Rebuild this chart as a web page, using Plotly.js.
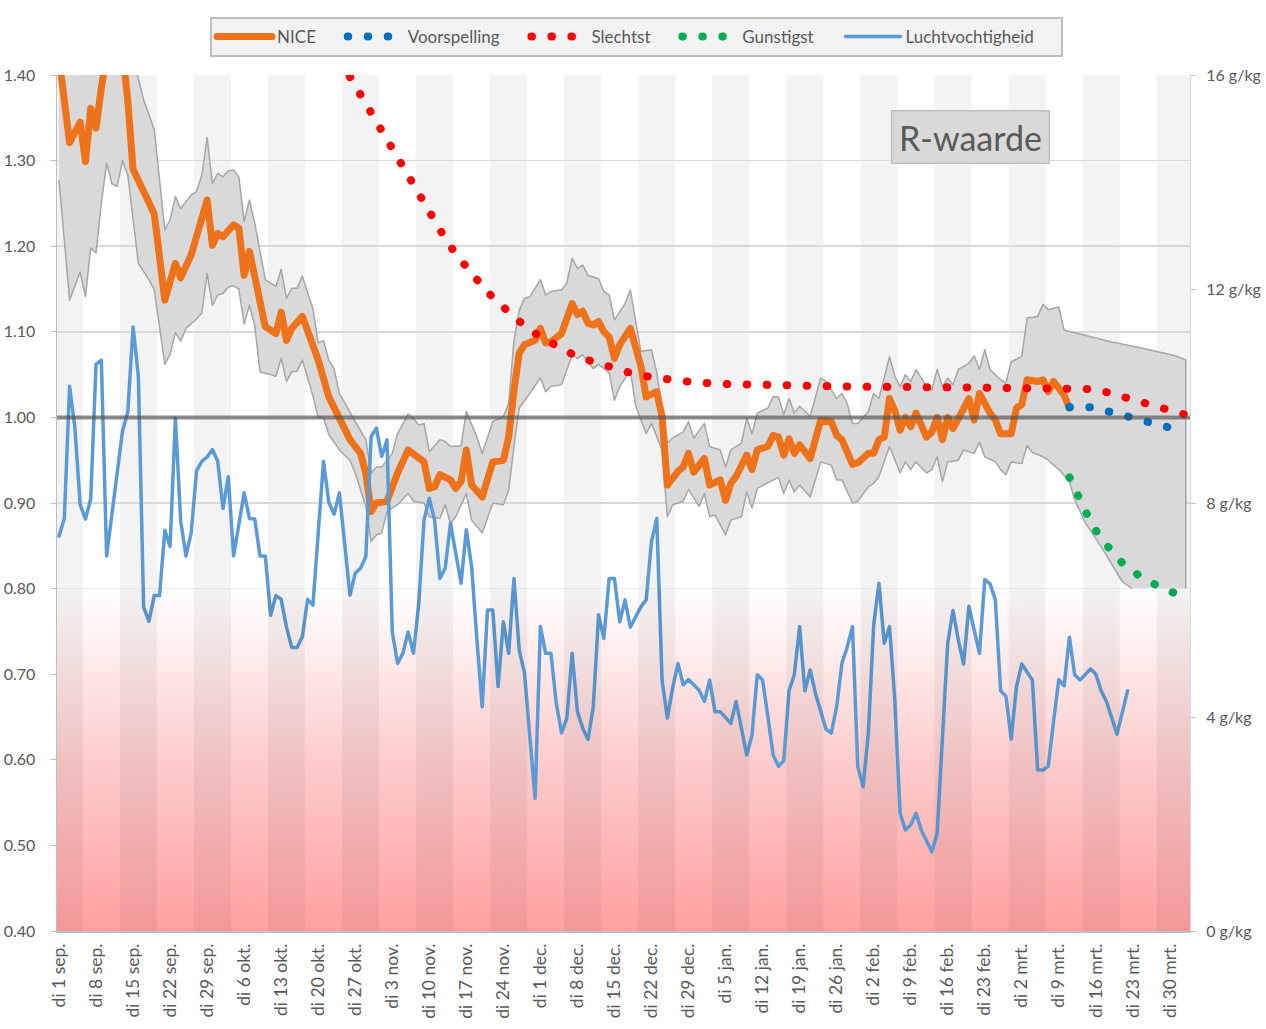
<!DOCTYPE html>
<html>
<head>
<meta charset="utf-8">
<script src="https://cdn.plot.ly/plotly-3.0.1.min.js"></script>
<style>
html,body{margin:0;padding:0;background:#ffffff;}
#chart{width:1266px;height:1029px;}
.js-line{stroke-linecap:round;stroke-linejoin:round;}
</style>
</head>
<body>
<div id="chart"></div>
<script>
// ---------- data (days counted from di 1 sep. 2020) ----------
const startDate = '2020-09-01';

const tickLabels = ['di 1 sep.','di 8 sep.','di 15 sep.','di 22 sep.','di 29 sep.','di 6 okt.','di 13 okt.',
  'di 20 okt.','di 27 okt.','di 3 nov.','di 10 nov.','di 17 nov.','di 24 nov.','di 1 dec.','di 8 dec.',
  'di 15 dec.','di 22 dec.','di 29 dec.','di 5 jan.','di 12 jan.','di 19 jan.','di 26 jan.','di 2 feb.',
  'di 9 feb.','di 16 feb.','di 23 feb.','di 2 mrt.','di 9 mrt.','di 16 mrt.','di 23 mrt.','di 30 mrt.'];

const seriesNames = ['NICE','Voorspelling','Slechtst','Gunstigst','Luchtvochtigheid'];

// NICE R-waarde
const niceDays = [0,2,4,5,6,7,8,9,10,11,12,13,14,18,20,22,23,25,28,29,30,31,33,34,35,36,37,39,41,42,43,44,46,49,51,53,55,57,58,59,60,62,64,66,68,69,70,71,72,74,75,76,77,78,80,82,84,85,86,87,88,90,91,92,93,95,97,98,99,100,101,102,103,104,105,106,108,109,110,111,113,114,115,117,118,119,120,122,123,125,126,127,128,130,131,132,134,135,136,137,138,139,140,142,144,146,147,148,150,151,153,154,155,156,157,158,159,160,161,162,164,165,166,167,168,169,170,172,173,174,176,177,178,180,181,182,183,185,186,187,188,189,190,191];
const niceR = [1.42,1.321,1.345,1.299,1.361,1.338,1.385,1.43,1.46,1.46,1.43,1.37,1.29,1.238,1.137,1.180,1.163,1.190,1.254,1.201,1.215,1.211,1.225,1.221,1.166,1.194,1.161,1.106,1.098,1.123,1.090,1.104,1.118,1.067,1.024,0.997,0.974,0.958,0.935,0.890,0.900,0.902,0.935,0.962,0.952,0.948,0.917,0.919,0.933,0.927,0.917,0.925,0.962,0.921,0.907,0.948,0.950,0.977,1.032,1.075,1.085,1.090,1.104,1.087,1.088,1.098,1.133,1.120,1.124,1.110,1.108,1.112,1.100,1.094,1.069,1.085,1.104,1.079,1.060,1.024,1.030,1.001,0.921,0.937,0.942,0.958,0.936,0.952,0.921,0.927,0.903,0.923,0.931,0.956,0.939,0.962,0.966,0.979,0.977,0.956,0.975,0.958,0.968,0.952,0.997,0.995,0.979,0.974,0.945,0.947,0.958,0.958,0.974,0.977,1.022,1.008,0.985,1.000,0.989,1.005,0.977,0.983,1.000,0.974,1.000,0.987,1.000,1.022,0.997,1.028,1.005,0.997,0.981,0.981,1.011,1.015,1.044,1.042,1.044,1.030,1.042,1.035,1.026,1.011];

// uncertainty band, upper edge
const bandUpDays = [0,5,10,14,16,18,20,21,22,23,25,26,27,28,29,30,31,32,33,34,35,36,37,39,41,42,43,44,45,46,48,49,50,51,52,53,55,56,58,59,60,61,63,64,66,67,68,69,70,72,73,74,76,77,79,80,82,84,85,86,87,88,89,91,92,93,95,96,97,98,99,100,101,102,103,104,105,107,108,110,112,113,115,116,118,119,120,122,123,125,126,127,129,130,131,132,134,135,136,137,138,139,140,142,144,145,147,148,149,150,151,153,154,155,157,158,159,160,161,162,164,165,166,167,168,169,170,172,173,174,175,176,177,178,179,180,182,183,185,186,187,189,190,194,199,204,208,211,213];
const bandUp = [1.46,1.48,1.50,1.42,1.371,1.336,1.219,1.231,1.258,1.244,1.260,1.264,1.283,1.327,1.273,1.285,1.281,1.288,1.289,1.281,1.229,1.254,1.227,1.161,1.153,1.173,1.139,1.151,1.151,1.165,1.127,1.087,1.090,1.067,1.057,1.028,1.005,0.995,0.974,0.935,0.942,0.942,0.958,0.981,1.004,0.999,0.991,0.993,0.960,0.974,0.972,0.966,0.967,1.007,0.977,0.958,0.995,1.001,1.016,1.090,1.125,1.139,1.141,1.161,1.143,1.147,1.149,1.157,1.186,1.174,1.178,1.166,1.164,1.162,1.147,1.143,1.114,1.133,1.149,1.077,1.079,1.052,0.970,0.976,0.983,0.995,0.976,0.993,0.966,0.962,0.942,0.962,0.970,0.999,0.981,1.005,1.011,1.024,1.024,1.003,1.022,1.005,1.013,1.001,1.046,1.042,1.022,1.028,1.016,0.993,0.993,1.007,1.028,1.022,1.071,1.048,1.036,1.050,1.042,1.056,1.036,1.032,1.056,1.036,1.046,1.038,1.056,1.063,1.072,1.056,1.079,1.056,1.050,1.044,1.040,1.065,1.071,1.116,1.118,1.132,1.126,1.129,1.102,1.096,1.088,1.082,1.076,1.072,1.067];

// uncertainty band, lower edge
const bandLoDays = [0,2,4,5,6,7,8,9,10,11,12,13,15,17,18,20,21,22,23,24,26,27,28,29,30,31,32,33,34,35,36,37,38,40,41,42,43,44,45,46,48,49,50,51,53,55,56,58,59,60,61,62,64,66,67,69,70,72,73,74,75,77,78,80,82,84,85,86,87,88,89,91,92,93,95,97,98,99,100,101,102,104,105,106,108,109,111,112,114,115,116,118,119,121,122,123,124,126,127,129,130,131,132,134,136,137,138,139,140,142,144,146,147,148,150,151,153,154,155,157,158,159,160,161,162,164,165,166,167,168,170,171,173,174,175,177,178,179,180,182,183,184,186,187,189,191,192,194,197,199,201,204,208,213];
const bandLo = [1.277,1.137,1.170,1.141,1.198,1.192,1.250,1.297,1.273,1.270,1.300,1.283,1.180,1.161,1.149,1.062,1.074,1.099,1.089,1.104,1.115,1.122,1.168,1.131,1.143,1.145,1.152,1.154,1.150,1.109,1.131,1.107,1.053,1.050,1.048,1.069,1.042,1.053,1.054,1.067,1.025,1.000,1.000,0.980,0.962,0.950,0.935,0.896,0.855,0.863,0.865,0.890,0.898,0.911,0.902,0.900,0.884,0.882,0.898,0.876,0.884,0.911,0.880,0.865,0.900,0.898,0.915,0.966,1.011,1.020,1.028,1.046,1.030,1.036,1.038,1.073,1.069,1.073,1.065,1.057,1.062,1.052,1.020,1.036,1.055,1.014,0.981,0.993,0.962,0.884,0.898,0.902,0.916,0.896,0.911,0.884,0.886,0.863,0.880,0.884,0.913,0.894,0.917,0.923,0.930,0.911,0.927,0.913,0.921,0.907,0.948,0.944,0.927,0.927,0.900,0.902,0.919,0.923,0.931,0.966,0.950,0.935,0.948,0.939,0.948,0.935,0.939,0.954,0.925,0.948,0.950,0.962,0.958,0.971,0.954,0.948,0.939,0.933,0.948,0.946,0.967,0.959,0.954,0.950,0.939,0.925,0.904,0.877,0.849,0.828,0.808,0.795,0.785,0.775];

// Luchtvochtigheid (g/kg, right axis)
const humDays = [0,1,2,3,4,5,6,7,8,9,12,13,14,15,16,17,18,19,20,21,22,23,24,25,26,27,28,29,30,31,32,33,35,36,37,38,39,40,41,42,43,44,45,46,47,48,50,51,52,53,55,56,57,58,59,60,61,62,63,64,65,66,67,68,69,70,71,72,73,74,75,76,77,78,79,80,81,82,83,84,85,86,87,88,89,90,91,92,93,94,95,96,97,98,99,100,101,102,103,104,105,106,107,108,109,110,111,112,113,114,115,116,117,118,119,121,122,123,124,125,127,128,130,131,132,133,134,135,136,137,138,139,140,141,142,143,145,146,147,148,149,150,151,152,153,154,155,156,157,158,159,160,161,162,163,164,165,166,167,168,169,170,171,172,173,174,175,176,177,178,179,180,181,182,184,185,186,187,188,189,190,191,192,193,195,196,197,198,200,202];
const humG = [7.38,7.71,10.18,9.41,7.97,7.70,8.08,10.59,10.67,7.01,9.34,9.70,11.29,10.37,6.05,5.79,6.27,6.27,7.49,7.19,9.59,7.67,7.01,7.45,8.60,8.78,8.86,9.00,8.78,7.90,8.49,7.01,8.19,7.71,7.70,7.01,7.01,5.90,6.27,6.20,5.68,5.30,5.30,5.50,6.20,6.09,8.78,8.01,7.79,8.19,6.28,6.69,6.78,7.00,9.24,9.40,8.87,9.18,5.59,5.00,5.19,5.59,5.19,6.12,7.68,8.09,7.68,6.59,6.78,7.62,7.06,6.50,7.50,6.81,5.44,4.19,6.00,6.00,4.57,5.78,5.19,6.59,5.25,4.82,3.63,2.48,5.69,5.19,5.19,4.26,3.70,3.98,5.19,4.10,3.79,3.58,4.19,5.91,5.47,6.59,6.59,5.78,6.19,5.68,5.87,6.06,6.19,7.28,7.71,4.69,3.98,4.54,5.00,4.60,4.70,4.50,4.29,4.69,4.10,4.10,3.88,4.29,3.29,3.66,4.79,4.69,4.01,3.29,3.08,3.18,4.49,4.79,5.69,4.49,4.88,4.44,3.77,3.70,4.19,5.00,5.31,5.69,3.07,2.70,3.70,5.72,6.50,5.38,5.69,4.32,2.20,1.89,1.98,2.20,1.89,1.70,1.48,1.83,3.70,5.38,5.99,5.44,4.99,6.07,5.63,5.19,6.57,6.49,6.19,4.49,4.39,3.59,4.57,4.99,4.69,3.01,3.01,3.08,3.91,4.70,4.58,5.49,4.79,4.69,4.90,4.80,4.49,4.29,3.68,4.49];

// Voorspelling
const fcDays = [191,195,199,203,207,210];
const fcR = [1.012,1.012,1.006,1.000,0.993,0.988];

// Slechtst
const worstDays = [55,57,59,61,63,65,67,69,71,73,75,77,79,82,85,88,91,94,97,100,104,108,112,116,120,126,135,150,170,192,196,200,204,208,213];
const worstR = [1.398,1.377,1.356,1.335,1.310,1.289,1.268,1.247,1.227,1.209,1.191,1.175,1.161,1.140,1.123,1.107,1.094,1.084,1.074,1.067,1.059,1.052,1.047,1.044,1.041,1.039,1.037,1.036,1.035,1.035,1.033,1.026,1.019,1.012,1.003];

// Gunstigst
const bestDays = [191,193,195,197,199,201,204,208,212];
const bestR = [0.930,0.903,0.878,0.858,0.843,0.830,0.816,0.802,0.792];

// ---------- helpers ----------
const BASE = Date.parse(startDate + 'T00:00:00Z');
function dayToDate(d) {
  const t = new Date(BASE + d * 86400000);
  return t.toISOString().slice(0, 19).replace('T', ' ');
}
const toDates = arr => arr.map(dayToDate);
const pad = '\u00a0'.repeat(5);   // extra gap between legend entries
const legendName = n => n + pad;

const X_MIN = -0.38, X_MAX = 213.8;
const tickVals = tickLabels.map((_, i) => dayToDate(i * 7));

// ---------- decorative background stripes ----------
const shapes = [];
for (let s = -2.5; s < X_MAX; s += 14) {
  const a = Math.max(s, X_MIN), b = Math.min(s + 7, X_MAX);
  shapes.push({type:'rect', xref:'x', yref:'y', x0:dayToDate(a), x1:dayToDate(b), y0:0.4, y1:1.4,
    fillcolor:'#f3f3f3', line:{width:0}, layer:'below'});
  shapes.push({type:'rect', xref:'x', yref:'y', x0:dayToDate(a), x1:dayToDate(b), y0:0.4, y1:0.8,
    fillcolor:'rgba(0,0,0,0.05)', line:{width:0}, layer:'above'});
}
shapes.push({type:'line', xref:'paper', x0:0, x1:1, yref:'y', y0:1, y1:1,
  line:{color:'rgba(80,80,80,0.65)', width:4}, layer:'above'});

const dotDash = '0.5px,19.5px';
const FONT = 'Lato, "Liberation Sans", sans-serif';

const traces = [
  { // band
    x: toDates(bandUpDays.concat(bandLoDays.slice().reverse())),
    y: bandUp.concat(bandLo.slice().reverse()),
    mode:'lines', fill:'toself', fillcolor:'#d9d9d9',
    line:{color:'#a6a6a6', width:1.5}, showlegend:false, hoverinfo:'skip'
  },
  { // red zone gradient
    x:[dayToDate(-3), dayToDate(217)], y:[0.8, 0.8],
    mode:'none', fill:'tozeroy',
    fillgradient:{type:'vertical', start:0.4, stop:0.8,
      colorscale:[[0,'#ffa0a0'],[0.5,'#fdcccc'],[0.88,'#fff4f4'],[1,'#ffffff']]},
    showlegend:false, hoverinfo:'skip'
  },
  { x: toDates(niceDays), y: niceR, name:legendName(seriesNames[0]), mode:'lines',
    line:{color:'#ee7219', width:7}, legendrank:1 },
  { x: toDates(worstDays), y: worstR, name:legendName(seriesNames[2]), mode:'lines',
    line:{color:'#ff0000', width:8, dash:dotDash}, legendrank:3 },
  { x: toDates(bestDays), y: bestR, name:legendName(seriesNames[3]), mode:'lines',
    line:{color:'#00b050', width:8, dash:dotDash}, legendrank:4 },
  { x: toDates(fcDays), y: fcR, name:legendName(seriesNames[1]), mode:'lines',
    line:{color:'#0070c0', width:8, dash:dotDash}, legendrank:2 },
  { x: toDates(humDays), y: humG, name:seriesNames[4] + '\u00a0'.repeat(5), mode:'lines', yaxis:'y2',
    line:{color:'#5b9bd5', width:3.5}, legendrank:5 }
];

const layout = {
  width:1266, height:1029,
  margin:{l:57, r:76, t:75, b:98},
  paper_bgcolor:'#ffffff', plot_bgcolor:'#ffffff',
  font:{family:FONT, size:16, color:'#595959'},
  showlegend:true,
  hovermode:false,
  legend:{orientation:'h', x:0.5115, xanchor:'center', y:1.0678, yanchor:'top',
    bgcolor:'#f2f2f2', bordercolor:'#bfbfbf', borderwidth:2,
    font:{family:FONT, size:17, color:'#595959'}, itemwidth:55, traceorder:'normal'},
  xaxis:{type:'date', range:[dayToDate(X_MIN), dayToDate(X_MAX)],
    tickmode:'array', tickvals:tickVals, ticktext:tickLabels, tickangle:-90,
    showgrid:false, zeroline:false, showline:true, linecolor:'#bfbfbf', linewidth:1.5,
    ticks:'', ticklabelstandoff:4, tickfont:{family:FONT, size:17.5, color:'#595959'}},
  yaxis:{range:[0.4,1.4], dtick:0.1, tick0:0.4, tickformat:'.2f',
    showgrid:true, gridcolor:'#d9d9d9', gridwidth:1.5, zeroline:false,
    showline:true, linecolor:'#bfbfbf', linewidth:1.5,
    ticks:'outside', ticklen:5, tickcolor:'#bfbfbf', ticklabelstandoff:12,
    tickfont:{family:FONT, size:16, color:'#595959'}},
  yaxis2:{overlaying:'y', side:'right', range:[0,16],
    tickmode:'array', tickvals:[0,4,8,12,16], ticktext:['0 g/kg','4 g/kg','8 g/kg','12 g/kg','16 g/kg'],
    showgrid:false, zeroline:false, showline:true, linecolor:'#d9d9d9', linewidth:1,
    ticks:'outside', ticklen:5, tickcolor:'#bfbfbf', ticklabelstandoff:7,
    tickfont:{family:FONT, size:16, color:'#595959'}},
  shapes: shapes,
  annotations:[{xref:'paper', yref:'paper', x:0.806, y:0.928, xanchor:'center', yanchor:'middle',
    text:'R-waarde', showarrow:false, font:{family:FONT, size:34, color:'#595959'},
    bgcolor:'#d9d9d9', bordercolor:'#bfbfbf', borderwidth:1.5, borderpad:3, width:150, height:45}]
};

Plotly.newPlot('chart', traces, layout, {staticPlot:true, displayModeBar:false});
</script>
</body>
</html>
